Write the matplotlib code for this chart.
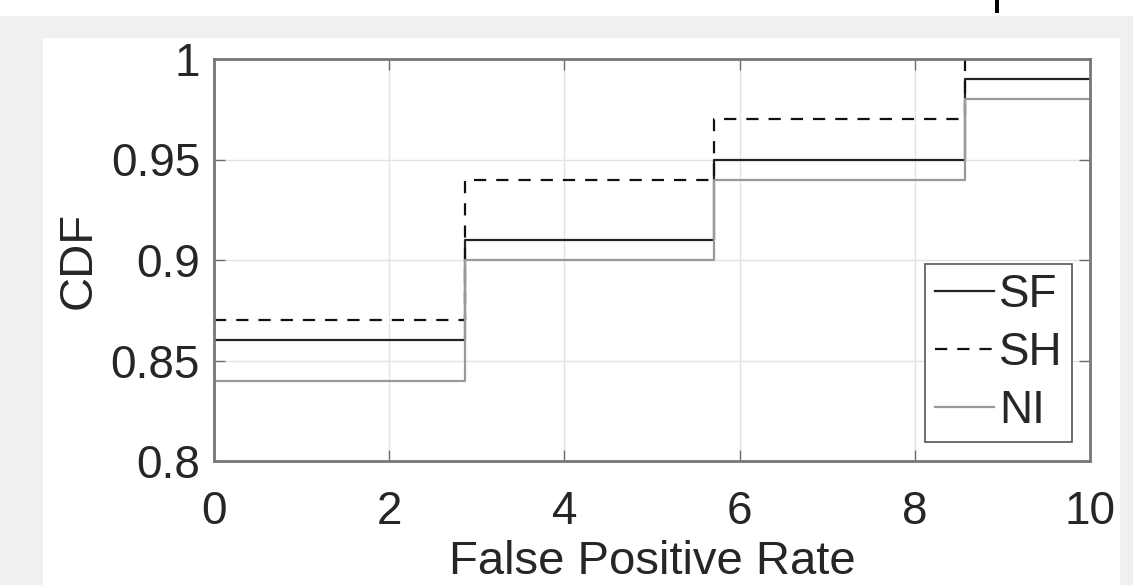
import matplotlib.pyplot as plt
from matplotlib.patches import Rectangle

plt.rcParams['font.family'] = ['Liberation Sans', 'DejaVu Sans']

# step positions (false positive rate) and CDF levels per method
fpr = [0, 2.86, 5.71, 8.57, 10]
sf = [0.86, 0.91, 0.95, 0.99]
sh = [0.87, 0.94, 0.97, 1.00]
ni = [0.84, 0.90, 0.94, 0.98]
labels = ["SF", "SH", "NI"]
xticks = [0, 2, 4, 6, 8, 10]
yticks = [0.8, 0.85, 0.9, 0.95, 1]

W, H = 1133, 585
fig = plt.figure(figsize=(W / 100, H / 100), dpi=100)
fig.patch.set_facecolor("white")

# screenshot-like background: gray frame, white panel, small black mark on top strip
fig.patches.append(Rectangle((0, 0), 1, (H - 16) / H, transform=fig.transFigure,
                             facecolor="#f0f0f0", edgecolor="none", zorder=-10))
fig.patches.append(Rectangle((43 / W, 0), (1120 - 43) / W, (H - 38) / H,
                             transform=fig.transFigure, facecolor="white",
                             edgecolor="none", zorder=-9))
fig.patches.append(Rectangle((995 / W, (H - 13) / H), 4 / W, 13 / H,
                             transform=fig.transFigure, facecolor="black",
                             edgecolor="none", zorder=-9))

ax = fig.add_axes([214 / W, 124 / H, (1090 - 214) / W, (526 - 124) / H])
ax.set_facecolor("white")

txt = "#262626"
ax.step(fpr, sf + sf[-1:], where="post", color="#222222", lw=1.6, label=labels[0])
ax.step(fpr, sh + sh[-1:], where="post", color="#111111", lw=1.6,
        ls=(0, (5.5, 4.5)), label=labels[1])
ax.step(fpr, ni + ni[-1:], where="post", color="#999999", lw=1.6, label=labels[2])

ax.set_xlim(0, 10)
ax.set_ylim(0.8, 1)
ax.set_xticks(xticks)
ax.set_yticks(yticks)
ax.set_xticklabels([str(t) for t in xticks])
ax.set_yticklabels(["0.8", "0.85", "0.9", "0.95", "1"])
ax.grid(True, color="#e3e3e3", lw=1.0)
ax.set_axisbelow(True)

for s in ax.spines.values():
    s.set_color("#777777")
    s.set_linewidth(2.0)
    s.set_zorder(5)
ax.tick_params(direction="in", length=8, width=1.0, color="#6e6e6e",
               top=True, right=True, labelsize=33, labelcolor=txt)
ax.tick_params(axis="x", pad=21)
ax.tick_params(axis="y", pad=10)

ax.set_xlabel("False Positive Rate", fontsize=34, color=txt, labelpad=4)
ax.set_ylabel("CDF", fontsize=34, color=txt, labelpad=7)

leg = ax.legend(loc="lower right", bbox_to_anchor=(0.979, 0.047), fontsize=33,
                frameon=True, fancybox=False, framealpha=1, edgecolor="#555555",
                handlelength=1.3, handletextpad=0.1, labelspacing=0.3,
                borderpad=0.2, borderaxespad=0)
leg.get_frame().set_linewidth(1.2)
for t in leg.get_texts():
    t.set_color(txt)

fig.savefig("out.png", dpi=100)
